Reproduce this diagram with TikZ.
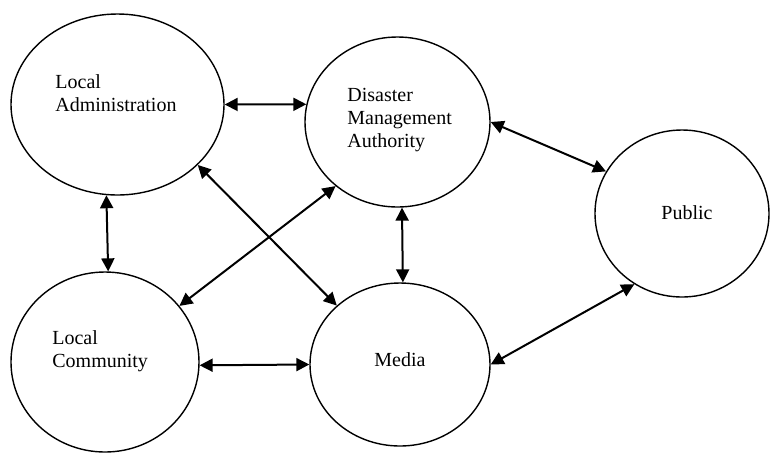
\documentclass[tikz,border=0pt]{standalone}
\usepackage{fontspec}
\setmainfont{Liberation Serif}
\usetikzlibrary{shapes.geometric,arrows.meta}
\begin{document}
\begin{tikzpicture}[x=0.5pt,y=-0.5pt,
  ent/.style={draw,ellipse,line width=0.7pt,inner sep=0pt},
  lbl/.style={font=\fontsize{10}{11.5}\selectfont,align=left,inner sep=0pt},
  link/.style={line width=1pt,{Triangle[length=6.5pt,width=6.5pt]}-{Triangle[length=6.5pt,width=6.5pt]}}]
\useasboundingbox (0,0) rectangle (771,452);
% ellipses
\node[ent,minimum width=106.5pt,minimum height=90.5pt] (la) at (117.5,104.5) {};
\node[ent,minimum width=92.5pt,minimum height=85pt] (dma) at (397.5,122) {};
\node[ent,minimum width=87pt,minimum height=83.5pt] (pub) at (682,213.5) {};
\node[ent,minimum width=94pt,minimum height=90pt] (lc) at (105,362) {};
\node[ent,minimum width=90pt,minimum height=81.5pt] (med) at (400,364.5) {};
% labels
\node[lbl,anchor=west] (tla) at (55,93) {Local\\Administration};
\node[lbl,anchor=west] (tdma) at (347,120) {Disaster\\Management\\Authority};
\node[lbl] (tpub) at (687,213) {Public};
\node[lbl,anchor=west] (tlc) at (52,351.5) {Local\\Community};
\node[lbl] (tmed) at (400,360) {Media};
% connectors
\draw[link] (la.0) -- (dma.169);
\draw[link] (dma.0) -- (pub.151);
\draw[link] (la.263.5) -- (lc.88.7);
\draw[link] (la.-37.5) -- (med.137.5);
\draw[link] (dma.226.6) -- (lc.37.5);
\draw[link] (dma.273) -- (med.88.5);
\draw[link] (lc.-2.5) -- (med.180);
\draw[link] (med.0) -- (pub.236);
\end{tikzpicture}
\end{document}
